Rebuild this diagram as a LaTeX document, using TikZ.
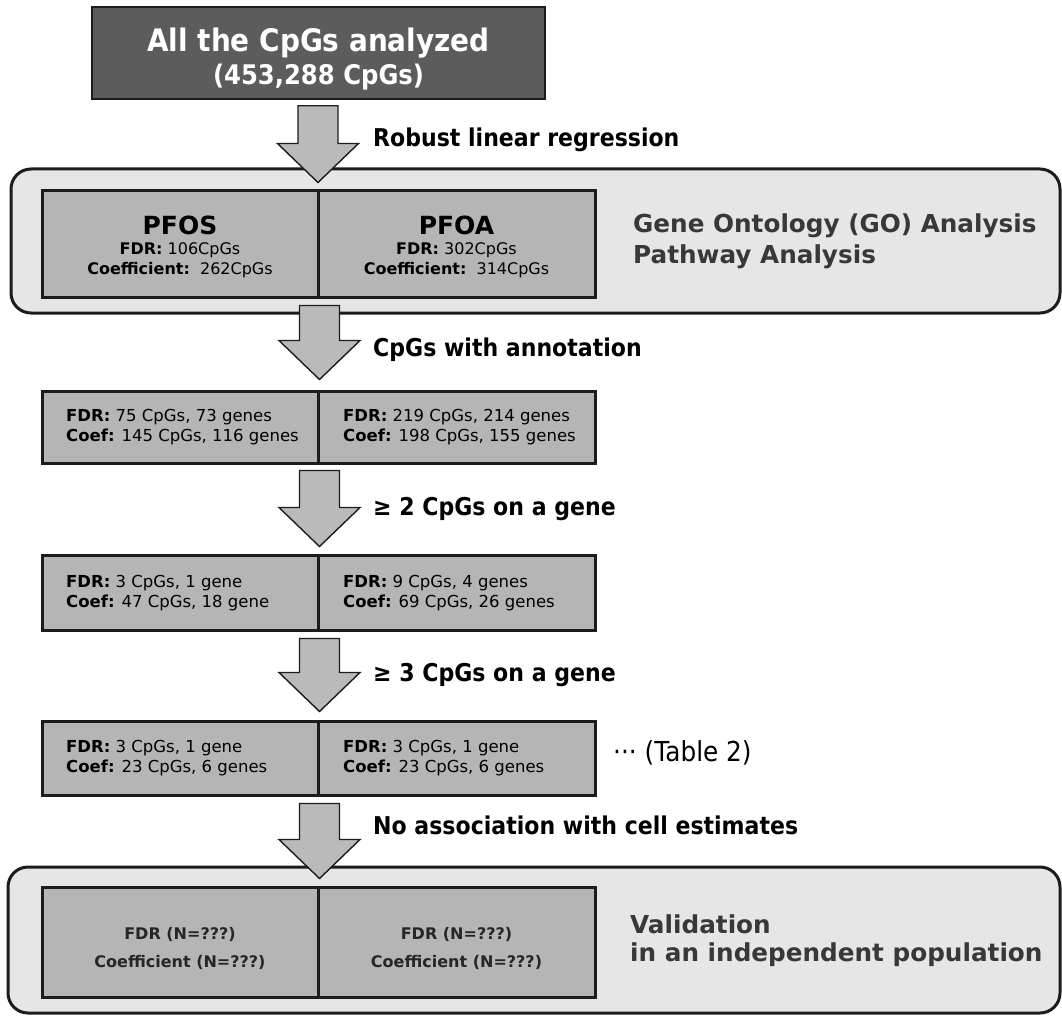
\documentclass[tikz,border=0pt]{standalone}
\usepackage{fontspec}
\setmainfont{DejaVu Sans}
\newfontfamily\tah{DejaVu Sans}[FakeStretch=0.9]
\usetikzlibrary{calc}
\definecolor{topfill}{HTML}{5C5C5C}
\definecolor{cellfill}{HTML}{B5B5B5}
\definecolor{contfill}{HTML}{E6E6E6}
\definecolor{arrfill}{HTML}{BABABA}
\definecolor{bordcol}{HTML}{1C1C1C}
\definecolor{sidetext}{HTML}{383838}
\newcommand\blockarrow[2]{%
  \draw[arrowshape] ($(#1)+(-20,0)$) -- ($(#1)+(20,0)$) -- ($(#2)+(20,-39)$)
    -- ($(#2)+(40.5,-39)$) -- (#2) -- ($(#2)+(-40.5,-39)$) -- ($(#2)+(-20,-39)$) -- cycle;}
\begin{document}
\begin{tikzpicture}[x=1pt,y=-1pt,
  topbox/.style={draw=bordcol, line width=1.5pt, fill=topfill, minimum width=453pt, minimum height=92pt, inner sep=0pt},
  container/.style={draw=bordcol, line width=3pt, fill=contfill, rounded corners=20pt, inner sep=0pt},
  cellbox/.style={draw=bordcol, line width=3pt, fill=cellfill, inner sep=0pt},
  arrowshape/.style={draw=bordcol, line width=1.4pt, fill=arrfill, line join=miter},
  txt/.style={inner sep=0pt, font=\fontsize{16}{20}\selectfont},
  rowtxt/.style={inner sep=0pt, anchor=west, align=left, font=\fontsize{16.5}{20.5}\selectfont},
  lbl/.style={inner sep=0pt, anchor=west, font=\tah\bfseries\fontsize{24.5}{28}\selectfont, text=black},
  side/.style={inner sep=0pt, anchor=west, font=\bfseries\fontsize{24.7}{28}\selectfont, text=sidetext},
  bottxt/.style={inner sep=0pt, align=center, font=\bfseries\fontsize{16}{28}\selectfont, text=black!85}]
\useasboundingbox (0,0) rectangle (1062,1016);
\fill[white] (0,0) rectangle (1062,1016);
% top box
\node[topbox] (top) at (318.5,53) {};
\node[inner sep=0pt, text=white, font=\tah\bfseries\fontsize{31}{34}\selectfont] (t1) at (318.5,43) {All the CpGs analyzed};
\node[inner sep=0pt, text=white, font=\tah\bfseries\fontsize{27}{30}\selectfont] (t2) at (318.5,77) {(453,288 CpGs)};
% containers
\node[container, minimum width=1049pt, minimum height=144pt] (cont1) at (535.5,241) {};
\node[container, minimum width=1052pt, minimum height=146pt] (cont3) at (534,940) {};
% row 1
\node[cellbox, minimum width=276pt, minimum height=106pt] (r1a) at (180,244) {};
\node[cellbox, minimum width=277pt, minimum height=106pt] (r1b) at (456.5,244) {};
% row 3
\node[cellbox, minimum width=276pt, minimum height=72pt] (r3a) at (180,427) {};
\node[cellbox, minimum width=277pt, minimum height=72pt] (r3b) at (456.5,427) {};
% row 4
\node[cellbox, minimum width=276pt, minimum height=75pt] (r4a) at (180,592.5) {};
\node[cellbox, minimum width=277pt, minimum height=75pt] (r4b) at (456.5,592.5) {};
% row 5
\node[cellbox, minimum width=276pt, minimum height=74pt] (r5a) at (180,758) {};
\node[cellbox, minimum width=277pt, minimum height=74pt] (r5b) at (456.5,758) {};
% row 6
\node[cellbox, minimum width=276pt, minimum height=110pt] (r6a) at (180,942) {};
\node[cellbox, minimum width=277pt, minimum height=110pt] (r6b) at (456.5,942) {};
% arrows
\coordinate (s1) at ($(top.south)+(-0.5,6)$);
\coordinate (e1) at ($(s1 |- cont1.north)+(0,15)$);
\coordinate (s2) at ($(r1a.south east)+(0,7)$);
\coordinate (e2) at ($(r3a.north east)+(0,-10)$);
\coordinate (s3) at ($(r3a.south east)+(0,6)$);
\coordinate (e3) at ($(r4a.north east)+(0,-7)$);
\coordinate (s4) at ($(r4a.south east)+(0,7)$);
\coordinate (e4) at ($(r5a.north east)+(0,-8)$);
\coordinate (s5) at ($(r5a.south east)+(0,7)$);
\coordinate (e5) at ($(s5 |- cont3.north)+(0,13)$);
\blockarrow{s1}{e1}
\blockarrow{s2}{e2}
\blockarrow{s3}{e3}
\blockarrow{s4}{e4}
\blockarrow{s5}{e5}
% arrow labels
\node[lbl] (l1) at (373,140) {Robust linear regression};
\node[lbl] (l2) at (373,350) {CpGs with annotation};
\node[lbl] (l3) at (373,509) {≥ 2 CpGs on a gene};
\node[lbl] (l4) at (373,675) {≥ 3 CpGs on a gene};
\node[lbl] (l5) at (373,825) {No association with cell estimates};
% row 1 text
\node[inner sep=0pt, font=\bfseries\fontsize{25}{28}\selectfont] (pfos) at (180,225) {PFOS};
\node[txt] (pfos1) at (180,250) {\textbf{FDR:} 106CpGs};
\node[txt] (pfos2) at (180,270) {\textbf{Coefficient:}\ \ 262CpGs};
\node[inner sep=0pt, font=\bfseries\fontsize{25}{28}\selectfont] (pfoa) at (456.5,225) {PFOA};
\node[txt] (pfoa1) at (456.5,250) {\textbf{FDR:} 302CpGs};
\node[txt] (pfoa2) at (456.5,270) {\textbf{Coefficient:}\ \ 314CpGs};
\node[side] (go1) at (633,226) {Gene Ontology (GO) Analysis};
\node[side] (go2) at (633,257) {Pathway Analysis};
% row 3 text
\node[rowtxt] (r3at) at (66,427) {\textbf{FDR:} 75 CpGs, 73 genes\\\textbf{Coef:} 145 CpGs, 116 genes};
\node[rowtxt] (r3bt) at (343,427) {\textbf{FDR:} 219 CpGs, 214 genes\\\textbf{Coef:} 198 CpGs, 155 genes};
% row 4 text
\node[rowtxt] (r4at) at (66,593) {\textbf{FDR:} 3 CpGs, 1 gene\\\textbf{Coef:} 47 CpGs, 18 gene};
\node[rowtxt] (r4bt) at (343,593) {\textbf{FDR:} 9 CpGs, 4 genes\\\textbf{Coef:} 69 CpGs, 26 genes};
% row 5 text
\node[rowtxt] (r5at) at (66,758) {\textbf{FDR:} 3 CpGs, 1 gene\\\textbf{Coef:} 23 CpGs, 6 genes};
\node[rowtxt] (r5bt) at (343,758) {\textbf{FDR:} 3 CpGs, 1 gene\\\textbf{Coef:} 23 CpGs, 6 genes};
\node[inner sep=0pt, anchor=west, font=\tah\fontsize{27.5}{30}\selectfont] (tab2) at (613,753) {···\ (Table 2)};
% row 6 text
\node[bottxt] (r6at) at (180,948) {FDR (N=???)\\Coefficient (N=???)};
\node[bottxt] (r6bt) at (456.5,948) {FDR (N=???)\\Coefficient (N=???)};
\node[side] (v1) at (630,924) {Validation};
\node[side] (v2) at (630,955) {in an independent population};
\end{tikzpicture}
\end{document}
